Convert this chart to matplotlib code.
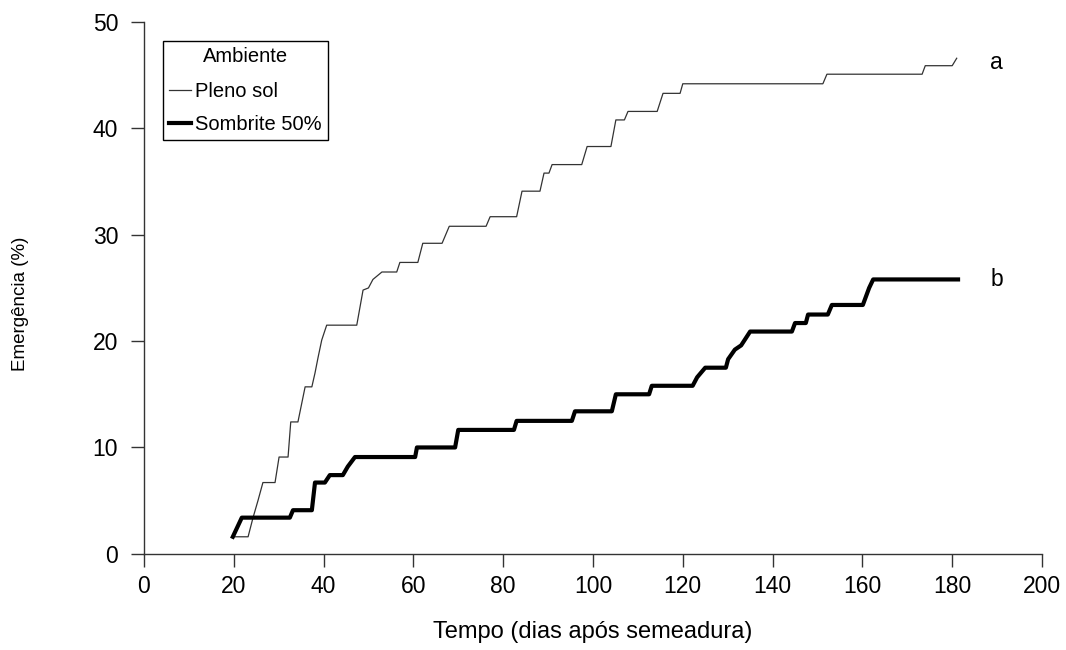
import matplotlib
matplotlib.use("Agg")
import matplotlib.pyplot as plt

plt.rcParams['font.family'] = ['Liberation Sans', 'DejaVu Sans']

# Pleno sol (linha fina) - dias após semeadura / emergência (%)
dias_sol = [20, 23.2, 24.3, 25.4, 26.5, 29.2, 30.1, 32.1, 32.7, 34.3, 35.9, 37.4,
            38.1, 38.8, 39.6, 40.7, 47.4, 48.8, 50, 51, 53, 56.3, 57, 61,
            62.1, 66.4, 68, 76.2, 77.1, 83, 84.2, 88.2, 89.1, 90.2, 90.9, 97.5,
            98.7, 104, 105.1, 107, 107.8, 114.3, 115.6, 119.4, 120, 151.2, 152.1,
            173.3, 174, 180, 181]
emerg_sol = [1.6, 1.6, 3.4, 5.0, 6.7, 6.7, 9.1, 9.1, 12.4, 12.4, 15.7, 15.7,
             17.0, 18.5, 20.1, 21.5, 21.5, 24.8, 25.0, 25.8, 26.5, 26.5, 27.4, 27.4,
             29.2, 29.2, 30.8, 30.8, 31.7, 31.7, 34.1, 34.1, 35.8, 35.8, 36.6, 36.6,
             38.3, 38.3, 40.8, 40.8, 41.6, 41.6, 43.3, 43.3, 44.2, 44.2, 45.1,
             45.1, 45.9, 45.9, 46.6]

# Sombrite 50% (linha grossa)
dias_somb = [19.8, 21.8, 32.5, 33.2, 37.4, 38.1, 40.3, 41.4, 44.3, 45.4, 47, 60.4,
             60.8, 69.3, 70, 82.4, 83, 95.3, 96, 104.2, 105.1, 112.5, 113.1, 122.2,
             123.2, 125, 129.6, 130.1, 131.6, 133, 135, 144.3, 145, 147.4, 147.9,
             152.3, 153.2, 160.1, 161.5, 162.4, 181.3]
emerg_somb = [1.6, 3.4, 3.4, 4.1, 4.1, 6.7, 6.7, 7.4, 7.4, 8.2, 9.1, 9.1,
              10.0, 10.0, 11.65, 11.65, 12.5, 12.5, 13.4, 13.4, 15.0, 15.0, 15.8, 15.8,
              16.6, 17.5, 17.5, 18.3, 19.2, 19.6, 20.9, 20.9, 21.7, 21.7, 22.5,
              22.5, 23.4, 23.4, 25.0, 25.8, 25.8]

fig = plt.figure(figsize=(10.66, 6.5), dpi=100)
ax = fig.add_axes([0.135, 0.148, 0.8425, 0.818])

ax.plot(dias_sol, emerg_sol, color='#333333', lw=0.9, label='Pleno sol')
ax.plot(dias_somb, emerg_somb, color='black', lw=3.0, label='Sombrite 50%')

ax.text(188.5, 46.2, 'a', fontsize=16.5, va='center', ha='left')
ax.text(188.5, 25.8, 'b', fontsize=16.5, va='center', ha='left')

ax.set_xlim(0, 200)
ax.set_ylim(0, 50)
ax.set_xticks(range(0, 201, 20))
ax.set_yticks(range(0, 51, 10))
for s in ['top', 'right']:
    ax.spines[s].set_visible(False)
for s in ['left', 'bottom']:
    ax.spines[s].set_color('#333333')
    ax.spines[s].set_linewidth(1.0)
ax.tick_params(direction='out', length=9.5, width=1.0, color='#333333',
               labelsize=16.5)
ax.tick_params(axis='x', pad=6)
ax.tick_params(axis='y', pad=9)

ax.set_xlabel('Tempo (dias após semeadura)', fontsize=17, labelpad=16)
ax.set_ylabel('Emergência (%)', fontsize=13.5)
ax.yaxis.set_label_coords(-0.128, 0.47)

leg = ax.legend(title='Ambiente', loc='upper left', bbox_to_anchor=(0.021, 0.964),
                borderaxespad=0, fontsize=14.5, title_fontsize=14.5, fancybox=False,
                framealpha=1, edgecolor='black', handlelength=1.1, handletextpad=0.2,
                borderpad=0.3, labelspacing=0.7)
leg.get_frame().set_linewidth(1.0)
leg._legend_box.sep = 11

fig.savefig('out.png', dpi=100)
